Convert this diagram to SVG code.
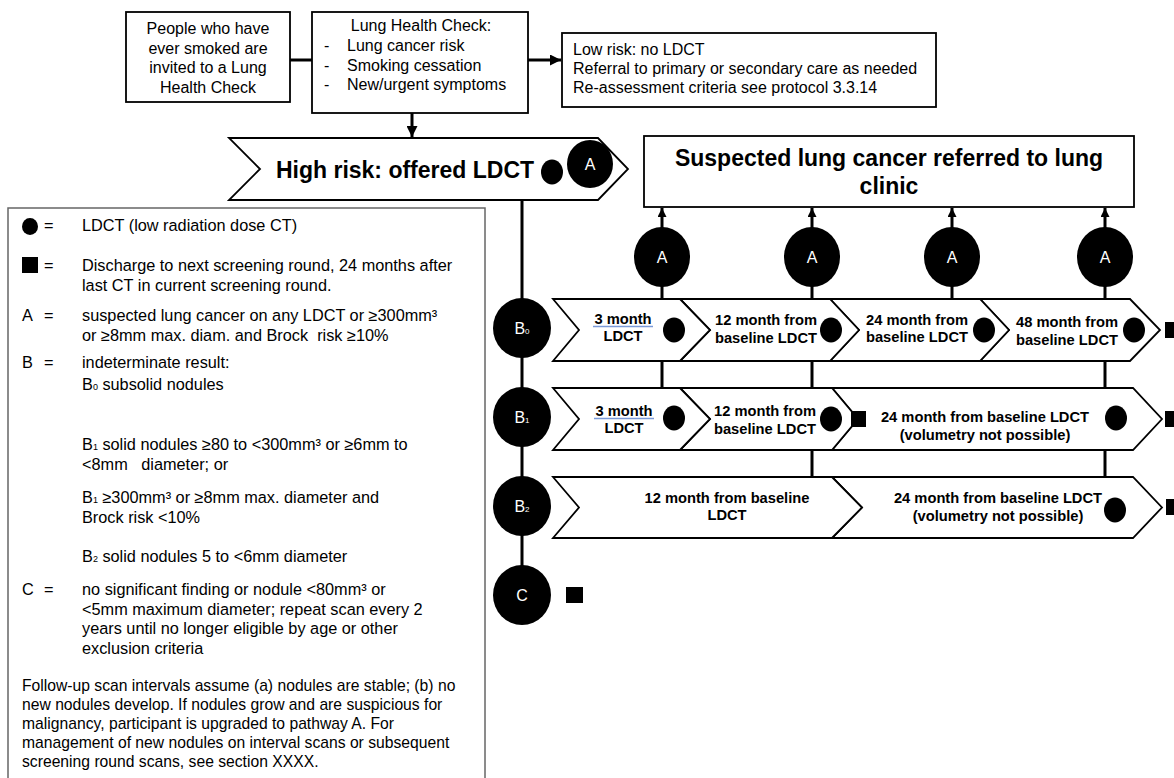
<svg xmlns="http://www.w3.org/2000/svg" width="1174" height="778" viewBox="0 0 1174 778">
<style>
text{font-family:"Liberation Sans",Arial,sans-serif;fill:#000}
.t16{font-size:16px}
.lg{font-size:16.3px}
.fp{font-size:15.7px}
.bold{font-weight:bold}
.ch{font-size:14.7px;font-weight:bold}
.mid{text-anchor:middle}
.box{fill:#fff;stroke:#000;stroke-width:1.8}
.chev{fill:#fff;stroke:#000;stroke-width:1.8;stroke-linejoin:miter}
.con{stroke:#000;stroke-width:3;fill:none}
.wl{fill:#fff;font-size:16px;text-anchor:middle}
.pre{white-space:pre}
.ul{stroke:#7b9ad8;stroke-width:1.5}
</style>
<defs>
<marker id="ah" markerUnits="userSpaceOnUse" markerWidth="11" markerHeight="11" refX="10" refY="5" orient="auto" viewBox="0 0 10 10">
<path d="M0,0 L10,5 L0,10 z" fill="#000"/>
</marker>
<marker id="ahs" markerUnits="userSpaceOnUse" markerWidth="9" markerHeight="9" refX="10" refY="5" orient="auto" viewBox="0 0 10 10">
<path d="M0,0 L10,5 L0,10 z" fill="#000"/>
</marker>
</defs>

<g id="connectors">
<line class="con" x1="290" y1="60" x2="312" y2="60"/>
<line class="con" x1="528" y1="60" x2="561" y2="60" marker-end="url(#ah)"/>
<line class="con" x1="412" y1="113" x2="412" y2="137" marker-end="url(#ah)"/>
<line class="con" x1="522" y1="200" x2="522" y2="570"/>
<line class="con" x1="662" y1="228" x2="662" y2="208" marker-end="url(#ahs)"/>
<line class="con" x1="812" y1="228" x2="812" y2="208" marker-end="url(#ahs)"/>
<line class="con" x1="952" y1="228" x2="952" y2="208" marker-end="url(#ahs)"/>
<line class="con" x1="1105" y1="228" x2="1105" y2="208" marker-end="url(#ahs)"/>
<line class="con" x1="662" y1="280" x2="662" y2="390"/>
<line class="con" x1="812" y1="280" x2="812" y2="479"/>
<line class="con" x1="952" y1="280" x2="952" y2="301"/>
<line class="con" x1="1105" y1="280" x2="1105" y2="479"/>
</g>

<g id="invite">
<rect class="box" x="126" y="12" width="164" height="90"/>
<text class="t16 mid" x="208" y="34">People who have</text>
<text class="t16 mid" x="208" y="53.5">ever smoked are</text>
<text class="t16 mid" x="208" y="73">invited to a Lung</text>
<text class="t16 mid" x="208" y="92.5">Health Check</text>
</g>

<g id="lhc">
<rect class="box" x="312" y="12" width="216" height="101"/>
<text class="t16 mid" x="421" y="31">Lung Health Check:</text>
<text class="t16" x="324" y="51">-</text>
<text class="t16" x="347" y="51">Lung cancer risk</text>
<text class="t16" x="324" y="71">-</text>
<text class="t16" x="347" y="71">Smoking cessation</text>
<text class="t16" x="324" y="90">-</text>
<text class="t16" x="347" y="90">New/urgent symptoms</text>
</g>

<g id="lowrisk">
<rect class="box" x="562" y="33" width="374" height="74"/>
<text class="t16" x="573" y="55">Low risk: no LDCT</text>
<text class="t16" x="573" y="74">Referral to primary or secondary care as needed</text>
<text class="t16" x="573" y="93">Re-assessment criteria see protocol 3.3.14</text>
</g>

<g id="highrisk">
<polygon class="chev" points="229,138 598,138 628,169 598,200 229,200 260,169"/>
<text class="bold mid" x="405" y="178" font-size="23">High risk: offered LDCT</text>
<ellipse cx="552" cy="172" rx="11" ry="12.5" fill="#000"/>
<ellipse cx="590" cy="164" rx="23" ry="24" fill="#000"/>
<text class="wl" x="590" y="170">A</text>
</g>

<g id="clinic">
<rect class="box" x="644" y="136" width="490" height="71"/>
<text class="bold mid" x="889" y="166" font-size="23">Suspected lung cancer referred to lung</text>
<text class="bold mid" x="889" y="194" font-size="23">clinic</text>
</g>

<g id="a-circles">
<ellipse cx="662" cy="257" rx="28" ry="30" fill="#000"/>
<text class="wl" x="662" y="263">A</text>
<ellipse cx="812" cy="257" rx="28" ry="30" fill="#000"/>
<text class="wl" x="812" y="263">A</text>
<ellipse cx="952" cy="257" rx="28" ry="30" fill="#000"/>
<text class="wl" x="952" y="263">A</text>
<ellipse cx="1105" cy="257" rx="28" ry="30" fill="#000"/>
<text class="wl" x="1105" y="263">A</text>
</g>

<g id="row-b0">
<polygon class="chev" points="980,299 1130,299 1160,330 1130,361 980,361 1009,330"/>
<text class="ch mid" x="1067" y="327">48 month from</text>
<text class="ch mid" x="1067" y="345">baseline LDCT</text>
<ellipse cx="1134" cy="330" rx="11" ry="12.5" fill="#000"/>
<rect x="1165" y="322" width="16" height="16" fill="#000"/>
<polygon class="chev" points="830,299 980,299 1009,330 980,361 830,361 859,330"/>
<text class="ch mid" x="917" y="325">24 month from</text>
<text class="ch mid" x="917" y="342">baseline LDCT</text>
<ellipse cx="984" cy="330" rx="11" ry="12.5" fill="#000"/>
<polygon class="chev" points="680,299 830,299 859,330 830,361 680,361 710,330"/>
<text class="ch mid" x="766" y="325">12 month from</text>
<text class="ch mid" x="766" y="343">baseline LDCT</text>
<ellipse cx="831" cy="330" rx="11" ry="12.5" fill="#000"/>
<polygon class="chev" points="553,299 680,299 710,330 680,361 553,361 579,330"/>
<text class="ch mid" x="623" y="324">3 month</text>
<line class="ul" x1="593" y1="326.5" x2="653" y2="326.5"/>
<text class="ch mid" x="623" y="341">LDCT</text>
<ellipse cx="674" cy="330" rx="11" ry="12.5" fill="#000"/>
</g>

<g id="row-b1">
<polygon class="chev" points="832,388 1133,388 1162,419 1133,450 832,450 858,419"/>
<text class="ch mid" x="985" y="422">24 month from baseline LDCT</text>
<text class="ch mid" x="985" y="440">(volumetry not possible)</text>
<ellipse cx="1116" cy="418" rx="11" ry="12.5" fill="#000"/>
<rect x="1165" y="411" width="16" height="16" fill="#000"/>
<polygon class="chev" points="680,388 832,388 858,419 832,450 680,450 710,419"/>
<text class="ch mid" x="765" y="416">12 month from</text>
<text class="ch mid" x="765" y="434">baseline LDCT</text>
<ellipse cx="831" cy="419" rx="11" ry="12.5" fill="#000"/>
<rect x="851" y="411" width="15" height="16" fill="#000"/>
<polygon class="chev" points="553,388 680,388 710,419 680,450 553,450 579,419"/>
<text class="ch mid" x="624" y="416">3 month</text>
<line class="ul" x1="594" y1="418.5" x2="654" y2="418.5"/>
<text class="ch mid" x="624" y="433">LDCT</text>
<ellipse cx="674" cy="418" rx="11" ry="12.5" fill="#000"/>
</g>

<g id="row-b2">
<polygon class="chev" points="832,477 1133,477 1162,507.5 1133,538 832,538 862,507.5"/>
<text class="ch mid" x="998" y="503">24 month from baseline LDCT</text>
<text class="ch mid" x="998" y="521">(volumetry not possible)</text>
<ellipse cx="1115" cy="510" rx="11" ry="12.5" fill="#000"/>
<rect x="1166" y="499" width="16" height="16" fill="#000"/>
<polygon class="chev" points="553,477 832,477 862,507.5 832,538 553,538 579,507.5"/>
<text class="ch mid" x="727" y="503">12 month from baseline</text>
<text class="ch mid" x="727" y="520">LDCT</text>
</g>

<g id="b-circles">
<ellipse cx="522" cy="328" rx="29" ry="30" fill="#000"/>
<text class="wl" x="522" y="334" font-size="15">B<tspan font-size="8">0</tspan></text>
<ellipse cx="522" cy="417" rx="29" ry="30" fill="#000"/>
<text class="wl" x="522" y="423" font-size="15">B<tspan font-size="8">1</tspan></text>
<ellipse cx="522" cy="506" rx="29" ry="30" fill="#000"/>
<text class="wl" x="522" y="512" font-size="15">B<tspan font-size="8">2</tspan></text>
</g>

<g id="c-node">
<ellipse cx="522" cy="595" rx="29" ry="30" fill="#000"/>
<text class="wl" x="522" y="601">C</text>
<rect x="566" y="587" width="17" height="16" fill="#000"/>
</g>

<g id="legend">
<rect x="8" y="208" width="477" height="580" fill="#fff" stroke="#666" stroke-width="1.5"/>
<ellipse cx="30" cy="226.5" rx="8" ry="8.5" fill="#000"/>
<text class="lg" x="44" y="231">=</text>
<text class="lg" x="82" y="231">LDCT (low radiation dose CT)</text>
<rect x="22" y="257" width="16" height="16" fill="#000"/>
<text class="lg" x="44" y="271">=</text>
<text class="lg" x="82" y="271">Discharge to next screening round, 24 months after</text>
<text class="lg" x="82" y="291">last CT in current screening round.</text>
<text class="lg" x="22" y="321">A</text>
<text class="lg" x="44" y="321">=</text>
<text class="lg" x="82" y="321">suspected lung cancer on any LDCT or ≥300mm³</text>
<text class="lg pre" x="82" y="341">or ≥8mm max. diam. and Brock  risk ≥10%</text>
<text class="lg" x="22" y="368">B</text>
<text class="lg" x="44" y="368">=</text>
<text class="lg" x="82" y="368">indeterminate result:</text>
<text class="lg" x="82" y="390">B<tspan font-size="9">0</tspan> subsolid nodules</text>
<text class="lg" x="82" y="450">B<tspan font-size="9">1</tspan> solid nodules ≥80 to &lt;300mm³ or ≥6mm to</text>
<text class="lg pre" x="82" y="470">&lt;8mm   diameter; or</text>
<text class="lg" x="82" y="503">B<tspan font-size="9">1</tspan> ≥300mm³ or ≥8mm max. diameter and</text>
<text class="lg" x="82" y="523">Brock risk &lt;10%</text>
<text class="lg" x="82" y="562">B<tspan font-size="9">2</tspan> solid nodules 5 to &lt;6mm diameter</text>
<text class="lg" x="22" y="595">C</text>
<text class="lg" x="44" y="595">=</text>
<text class="lg" x="82" y="595">no significant finding or nodule &lt;80mm³ or</text>
<text class="lg" x="82" y="615">&lt;5mm maximum diameter; repeat scan every 2</text>
<text class="lg" x="82" y="634">years until no longer eligible by age or other</text>
<text class="lg" x="82" y="654">exclusion criteria</text>
<text class="fp" x="22" y="691">Follow-up scan intervals assume (a) nodules are stable; (b) no</text>
<text class="fp" x="22" y="710">new nodules develop. If nodules grow and are suspicious for</text>
<text class="fp" x="22" y="729">malignancy, participant is upgraded to pathway A. For</text>
<text class="fp" x="22" y="748">management of new nodules on interval scans or subsequent</text>
<text class="fp" x="22" y="767">screening round scans, see section XXXX.</text>
</g>
</svg>
